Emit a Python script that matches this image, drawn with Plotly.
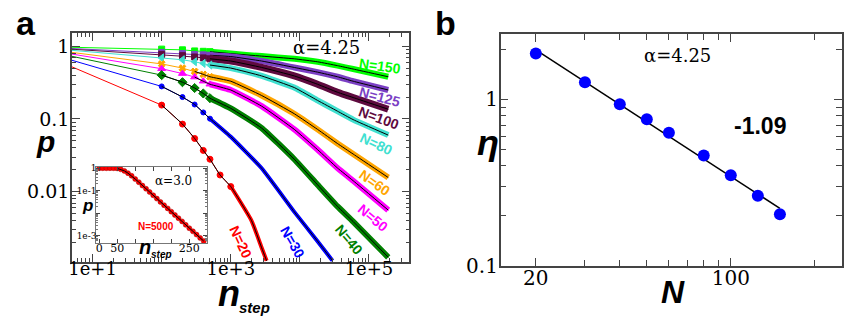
import plotly.graph_objects as go

W, H = 858, 332
SERIF = "DejaVu Serif, serif"
SANS = "Liberation Sans, Arial, sans-serif"


def fx(x):
    return x / W


def fy(y):
    return 1 - y / H


# ---- panel a: p(n_step) for alpha = 4.25 ----
n_a = [1, 100, 200, 300, 400, 500, 1000, 2800, 8300, 18000, 35000, 59000, 190000]
p_150 = [1, 0.91, 0.89, 0.86, 0.85, 0.84, 0.79, 0.73, 0.67, 0.61, 0.54, 0.485, 0.38]
p_125 = [1, 0.82, 0.79, 0.77, 0.76, 0.75, 0.72, 0.625, 0.51, 0.44, 0.38, 0.33, 0.25]
p_100 = [1, 0.77, 0.74, 0.71, 0.69, 0.67, 0.625, 0.51, 0.39, 0.30, 0.233, 0.197, 0.136]
p_80 = [1, 0.69, 0.65, 0.61, 0.58, 0.55, 0.50, 0.39, 0.27, 0.18, 0.128, 0.098, 0.06]
p_60 = [1, 0.57, 0.50, 0.45, 0.41, 0.38, 0.33, 0.21, 0.118, 0.072, 0.046, 0.033, 0.0157]
p_50 = [1, 0.49, 0.42, 0.376, 0.33, 0.30, 0.25, 0.15, 0.072, 0.038, 0.0212, 0.0142, 0.0056]
p_40 = [1, 0.40, 0.32, 0.266, 0.224, 0.193, 0.14, 0.075, 0.028, 0.0125, 0.0063, 0.0039, 0.00126]
n_30 = [1, 100, 200, 300, 400, 500, 1000, 2800, 8300, 18000, 29700]
p_30 = [1, 0.28, 0.20, 0.158, 0.123, 0.101, 0.057, 0.021, 0.0053, 0.0021, 0.00113]
n_20 = [1, 100, 200, 300, 400, 500, 700, 1000, 2000, 2800, 3300]
p_20 = [1, 0.155, 0.085, 0.054, 0.037, 0.028, 0.017, 0.0118, 0.004, 0.0017, 0.00113]

# inset: N=5000, alpha=3.0 (linear n_step, log p)
n_in = list(range(0, 300, 10))
p_in = [1, 1, 1, 1, 1, 0.98, 0.89, 0.76, 0.60, 0.46, 0.33, 0.24, 0.17, 0.123, 0.088,
        0.063, 0.045, 0.032, 0.023, 0.0166, 0.0119, 0.0085, 0.0061, 0.0044, 0.0031,
        0.0022, 0.0016, 0.00115, 0.00082, 0.00059]

# ---- panel b: eta(N) ----
N_b = [20, 30, 40, 50, 60, 80, 100, 125, 150]
eta_b = [1.89, 1.27, 0.936, 0.76, 0.63, 0.46, 0.35, 0.263, 0.204]
fit_N = [20, 150]
fit_eta = [1.99, 0.221]

# (label, n, p, color, symbol, marker size, band start, black start, band width)
series = [
    ("N=150", n_a, p_150, "#00ff00", "square", 6, 5, 5, 6),
    ("N=125", n_a, p_125, "#7b3fc4", "square", 6, 5, 5, 6),
    ("N=100", n_a, p_100, "#5e0a3e", "square", 6, 5, 5, 7),
    ("N=80", n_a, p_80, "#40e0d0", "triangle-left", 7, 5, 5, 6),
    ("N=60", n_a, p_60, "#ffa500", "x", 6, 5, 3, 6),
    ("N=50", n_a, p_50, "#ff00ff", "triangle-up", 7, 5, 3, 6),
    ("N=40", n_a, p_40, "#008000", "diamond", 7, 5, 1, 6),
    ("N=30", n_30, p_30, "#0000ff", "circle", 5, 5, 1, 4),
    ("N=20", n_20, p_20, "#ff0000", "circle", 6, 7, 1, 4),
]

fig = go.Figure()

for name, n, p, col, sym, ms, kb, kk, bw in series:
    fig.add_trace(go.Scatter(x=n, y=p, mode="lines", line=dict(color=col, width=1),
                             xaxis="x", yaxis="y"))
    fig.add_trace(go.Scatter(x=n[kb:], y=p[kb:], mode="lines",
                             line=dict(color=col, width=bw, shape="spline", smoothing=0.4),
                             xaxis="x", yaxis="y"))
    fig.add_trace(go.Scatter(x=n[1:kb + 1], y=p[1:kb + 1], mode="markers",
                             marker=dict(color=col, symbol=sym, size=ms,
                                         line=dict(color=col, width=1)),
                             xaxis="x", yaxis="y"))
    fig.add_trace(go.Scatter(x=n[kk:], y=p[kk:], mode="lines",
                             line=dict(color="black", width=1, shape="spline", smoothing=0.4),
                             xaxis="x", yaxis="y"))

# inset
fig.add_trace(go.Scatter(x=n_in, y=p_in, mode="markers",
                         marker=dict(color="#ff0000", size=5, line=dict(color="#aa0000", width=0.5)),
                         xaxis="x3", yaxis="y3"))
fig.add_trace(go.Scatter(x=n_in[5:], y=p_in[5:], mode="lines", line=dict(color="black", width=1),
                         xaxis="x3", yaxis="y3"))

# panel b
fig.add_trace(go.Scatter(x=fit_N, y=fit_eta, mode="lines", line=dict(color="black", width=1.5),
                         xaxis="x2", yaxis="y2"))
fig.add_trace(go.Scatter(x=N_b, y=eta_b, mode="markers",
                         marker=dict(color="#0000ff", size=12), xaxis="x2", yaxis="y2"))


def log_minor(lo, hi):
    return [m * 10 ** k for k in range(lo, hi) for m in range(2, 10)]


axis_common = dict(showline=True, linecolor="#444", linewidth=1.5, mirror="allticks",
                   ticks="inside", ticklen=8, tickcolor="#444", showgrid=False, zeroline=False)

x_a = dict(axis_common, type="log", domain=[fx(68.3), fx(407.3)], anchor="y",
           range=[0.702, 5.585], tickmode="array",
           tickvals=[10, 100, 1000, 1e4, 1e5], ticktext=["1e+1", "", "1e+3", "", "1e+5"],
           tickfont=dict(family=SERIF, size=18, color="black"), ticklabelstandoff=-10,
           minor=dict(tickmode="array", tickvals=log_minor(0, 6), ticks="inside",
                      ticklen=4, tickcolor="#444"))
y_a = dict(axis_common, type="log", domain=[fy(271), fy(31.7)], anchor="x",
           range=[-2.961, 0.177], tickmode="array",
           tickvals=[0.01, 0.1, 1], ticktext=["0.01", "0.1", "1"],
           tickfont=dict(family=SERIF, size=19, color="black"), ticklabelstandoff=-3,
           minor=dict(tickmode="array", tickvals=log_minor(-3, 1), ticks="inside",
                      ticklen=4, tickcolor="#444"))

x_b = dict(axis_common, type="log", domain=[fx(499), fx(842)], anchor="y2",
           range=[1.175, 2.399], tickmode="array", tickvals=[20, 100], ticktext=["20", "100"],
           tickfont=dict(family=SERIF, size=20, color="black"), ticklabelstandoff=-6,
           minor=dict(tickmode="array", tickvals=[30, 40, 50, 60, 70, 80, 90, 200],
                      ticks="inside", ticklen=6, tickcolor="#444"))
y_b = dict(axis_common, type="log", domain=[fy(275), fy(32.3)], anchor="x2",
           range=[-1, 0.395], tickmode="array", tickvals=[0.1, 1], ticktext=["0.1", "1"],
           tickfont=dict(family=SERIF, size=20, color="black"), ticklabelstandoff=-3,
           minor=dict(tickmode="array", tickvals=log_minor(-1, 1), ticks="inside",
                      ticklen=6, tickcolor="#444"))

x_in = dict(axis_common, domain=[fx(92.7), fx(204.3)], anchor="y3", range=[-8, 300],
            tickmode="array", tickvals=[0, 50, 100, 150, 200, 250],
            ticktext=["0", "50", "", "", "", "250"], ticklen=4, linecolor="#777", linewidth=1,
            tickfont=dict(family=SERIF, size=11, color="black"), ticklabelstandoff=-5)
y_in = dict(axis_common, type="log", domain=[fy(251.3), fy(171.3)], anchor="x3",
            range=[-3.31, 0.072], tickmode="array", tickvals=[0.001, 0.01, 0.1, 1],
            ticktext=["1e-3", "", "1e-1", "1"], ticklen=4, linecolor="#777", linewidth=1,
            tickfont=dict(family=SERIF, size=9, color="black"), ticklabelstandoff=-3,
            minor=dict(tickmode="array", tickvals=log_minor(-4, 1), ticks="inside",
                       ticklen=2, tickcolor="#777"))

ann = []


def text(x, y, s, size, color="black", family=SANS, angle=0):
    ann.append(dict(x=fx(x), y=fy(y), xref="paper", yref="paper", text=s, showarrow=False,
                    textangle=angle, xanchor="center", yanchor="middle",
                    font=dict(family=family, size=size, color=color)))


# curve labels
label_pos = {
    "N=150": (378, 66, 8), "N=125": (378, 98, 15), "N=100": (377, 120, 20),
    "N=80": (374, 148, 25), "N=60": (373, 188, 35), "N=50": (371, 225, 40),
    "N=40": (347, 248, 50), "N=30": (290, 250, 60), "N=20": (238, 250, 65),
}
for name, n, p, col, *_ in series:
    x, y, a = label_pos[name]
    text(x, y, "<b>" + name + "</b>", 14, col, angle=a)

text(22, 21, "<b>a</b>", 34)
text(444, 21, "<b>b</b>", 34)
text(324, 47, "α=4.25", 18, family=SERIF)
text(677, 55, "α=4.25", 18, family=SERIF)
text(760, 129, "<b>-1.09</b>", 23)
text(42, 145, "<b><i>p</i></b>", 30)
text(226, 304, "<b><i>n</i></b>", 36)
text(252, 319, "<b><i>step</i></b>", 15)
text(486, 146, "<b><i>η</i></b>", 36)
text(672, 303, "<b><i>N</i></b>", 32)
# inset texts
text(170, 186, "α=3.0", 12, family=SERIF)
text(153, 234, "<b>N=5000</b>", 10, "#ff0000")
text(84, 212, "<b><i>p</i></b>", 17)
text(142, 256, "<b><i>n</i></b>", 20)
text(158, 263, "<b><i>step</i></b>", 10)

fig.update_layout(
    width=W, height=H, margin=dict(l=0, r=0, t=0, b=0),
    paper_bgcolor="white", plot_bgcolor="white", showlegend=False,
    xaxis=x_a, yaxis=y_a, xaxis2=x_b, yaxis2=y_b, xaxis3=x_in, yaxis3=y_in,
    annotations=ann,
)

# drop the default page margin so the figure sits at the window's corner
fig.write_html("out.html", config={"displayModeBar": False},
               post_script="document.body.style.margin='0';")
